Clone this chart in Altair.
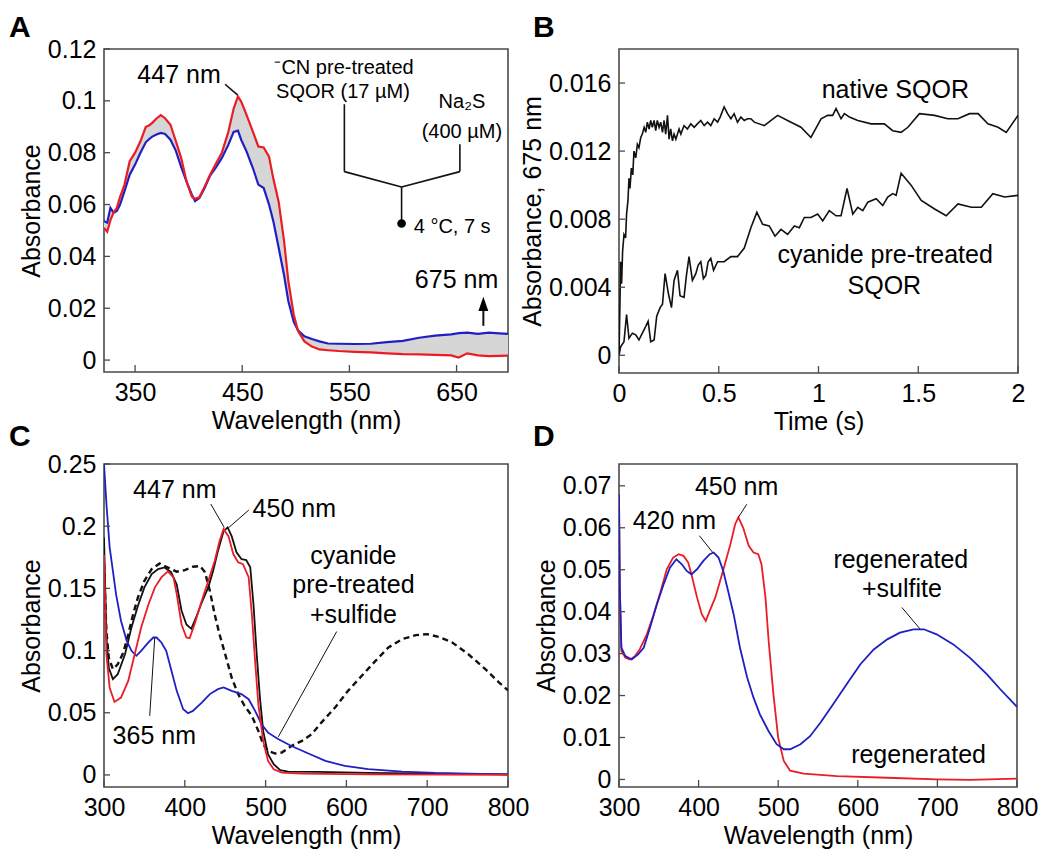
import altair as alt
import pandas as pd

FONT = "Liberation Sans"
RED = "#ea1d24"
BLUE = "#1f1fc4"
BLACK = "#111111"
GRAY = "#d6d6d6"
FRAME = "#4a4a4a"

# ---------------- Panel A ----------------
A_WL = [321, 324, 327, 330, 333, 336, 340, 345, 350, 355, 360, 363, 366, 370, 374, 378,
        383, 388, 393, 398, 403, 406, 410, 415, 420, 425, 431, 437, 442, 446, 449, 454,
        460, 465, 470, 475, 479, 484, 489, 493, 498, 502, 508, 515, 522, 530, 540, 555,
        570, 585, 600, 615, 630, 645, 652, 660, 670, 680, 690, 698]
A_RED = [0.051, 0.0495, 0.054, 0.057, 0.0587, 0.063, 0.0675, 0.0767, 0.080, 0.0844, 0.090,
         0.0905, 0.0915, 0.0932, 0.0945, 0.0933, 0.0908, 0.0845, 0.078, 0.069, 0.0630, 0.0622,
         0.0628, 0.067, 0.0715, 0.0754, 0.080, 0.088, 0.097, 0.1017, 0.0997, 0.0946, 0.088,
         0.0824, 0.0820, 0.0785, 0.070, 0.061, 0.046, 0.0305, 0.0177, 0.0113, 0.0072, 0.0052,
         0.0041, 0.0038, 0.0035, 0.0032, 0.003, 0.0026, 0.0023, 0.0022, 0.002, 0.0018, 0.001,
         0.0026, 0.0018, 0.0015, 0.0016, 0.0017]
A_BLUE = [0.0536, 0.053, 0.0587, 0.0568, 0.0575, 0.060, 0.065, 0.0715, 0.0754, 0.080, 0.084,
          0.0852, 0.0862, 0.0870, 0.0876, 0.0872, 0.0850, 0.0808, 0.0745, 0.0688, 0.0638,
          0.0613, 0.0625, 0.0665, 0.0712, 0.074, 0.078, 0.083, 0.088, 0.0885, 0.085, 0.0805,
          0.074, 0.0677, 0.0664, 0.060, 0.0536, 0.0433, 0.0328, 0.0228, 0.0148, 0.0115, 0.0092,
          0.0081, 0.0072, 0.0064, 0.0063, 0.0062, 0.0063, 0.0069, 0.0074, 0.0086, 0.0094,
          0.0099, 0.0104, 0.0106, 0.0101, 0.0106, 0.0103, 0.0101]
A_XTICKS = [350, 450, 550, 650]
A_YTICKS = [0, 0.02, 0.04, 0.06, 0.08, 0.1, 0.12]

# ---------------- Panel B ----------------
B_NATIVE_T = [0, 0.005, 0.008, 0.013, 0.018, 0.025, 0.033, 0.038, 0.045, 0.05, 0.055, 0.062,
              0.069, 0.075, 0.084, 0.092, 0.1, 0.109, 0.117, 0.126, 0.134, 0.142, 0.151, 0.159,
              0.167, 0.176, 0.184, 0.192, 0.201, 0.209, 0.218, 0.226, 0.234, 0.243, 0.251,
              0.259, 0.268, 0.276, 0.285, 0.301, 0.31, 0.326, 0.343, 0.36, 0.377, 0.393, 0.41,
              0.427, 0.444, 0.46, 0.477, 0.494, 0.507, 0.527, 0.544, 0.561, 0.577, 0.594, 0.611,
              0.628, 0.644, 0.661, 0.678, 0.728, 0.795, 0.845, 0.912, 0.962, 1.013, 1.046,
              1.071, 1.088, 1.113, 1.13, 1.155, 1.197, 1.264, 1.33, 1.372, 1.414, 1.448, 1.506,
              1.582, 1.648, 1.699, 1.757, 1.8, 1.849, 1.9, 1.941, 2.0]
B_NATIVE_V = [0.0, 0.0032, 0.0055, 0.0042, 0.0061, 0.0071, 0.0069, 0.0083, 0.0091, 0.0104,
              0.0098, 0.011, 0.0106, 0.012, 0.0116, 0.0124, 0.0122, 0.0128, 0.013, 0.0134,
              0.0131, 0.0137, 0.0133, 0.0138, 0.0134, 0.0138, 0.0132, 0.0138, 0.0134, 0.0137,
              0.0131, 0.0138, 0.013, 0.0141, 0.0127, 0.0133, 0.0126, 0.013, 0.0127, 0.0133,
              0.013, 0.0135, 0.0133, 0.0136, 0.0134, 0.0136, 0.0138, 0.0135, 0.0137, 0.0135,
              0.0139, 0.0137, 0.014, 0.0146, 0.0142, 0.0139, 0.0142, 0.0137, 0.014, 0.0138,
              0.0139, 0.0139, 0.0137, 0.0135, 0.0141, 0.0138, 0.0134, 0.0128, 0.0139, 0.0141,
              0.0141, 0.0145, 0.0139, 0.0142, 0.014, 0.0138, 0.0136, 0.0136, 0.0132, 0.0131,
              0.0134, 0.0142, 0.0141, 0.0139, 0.0139, 0.0142, 0.0142, 0.0136, 0.0134, 0.0131,
              0.0141]
B_CN_T = [0, 0.008, 0.025, 0.038, 0.05, 0.067, 0.084, 0.1, 0.117, 0.134, 0.146, 0.159, 0.176,
          0.189, 0.206, 0.218, 0.231, 0.248, 0.263, 0.276, 0.293, 0.306, 0.326, 0.338, 0.351,
          0.368, 0.385, 0.397, 0.41, 0.423, 0.435, 0.447, 0.46, 0.474, 0.494, 0.527, 0.561,
          0.594, 0.628, 0.661, 0.691, 0.72, 0.753, 0.782, 0.812, 0.845, 0.879, 0.904, 0.929,
          0.962, 0.996, 1.021, 1.054, 1.088, 1.113, 1.143, 1.172, 1.197, 1.222, 1.247, 1.289,
          1.322, 1.347, 1.372, 1.389, 1.414, 1.464, 1.515, 1.582, 1.64, 1.699, 1.766, 1.816,
          1.874, 1.933, 2.0]
B_CN_V = [0.0, 0.0005, 0.0008, 0.0024, 0.001, 0.0013, 0.0012, 0.0009, 0.0013, 0.0017, 0.002,
          0.0008, 0.0009, 0.0023, 0.0028, 0.003, 0.0048, 0.0036, 0.0028, 0.0044, 0.005, 0.0035,
          0.0034, 0.0047, 0.0058, 0.0044, 0.0048, 0.0053, 0.0055, 0.0045, 0.0047, 0.0055,
          0.0057, 0.005, 0.0055, 0.0055, 0.0058, 0.0058, 0.0063, 0.0075, 0.0084, 0.0077,
          0.0076, 0.007, 0.0074, 0.0071, 0.0076, 0.0075, 0.0081, 0.0081, 0.0083, 0.0079,
          0.0085, 0.0082, 0.0082, 0.0098, 0.0083, 0.0087, 0.0085, 0.009, 0.0092, 0.0088,
          0.0093, 0.0095, 0.0094, 0.0107, 0.010, 0.0091, 0.0086, 0.0082, 0.0089, 0.0087,
          0.0087, 0.0095, 0.0093, 0.0094]
B_XTICKS = [0, 0.5, 1, 1.5, 2]
B_YTICKS = [0, 0.004, 0.008, 0.012, 0.016]

# ---------------- Panel C ----------------
C_BLACK_WL = [300, 303, 306, 311, 317, 326, 334, 342, 350, 359, 367, 375, 383, 390, 396, 402,
              408, 414, 421, 429, 435, 441, 448, 453, 458, 464, 470, 476, 481, 485, 489, 493,
              497, 503, 510, 518, 528, 565, 627, 710, 800]
C_BLACK = [0.191, 0.1105, 0.086, 0.077, 0.081, 0.097, 0.1186, 0.136, 0.1508, 0.1615, 0.1655,
           0.1668, 0.163, 0.153, 0.132, 0.121, 0.1175, 0.1266, 0.1387, 0.1508, 0.164, 0.180,
           0.196, 0.199, 0.192, 0.179, 0.1736, 0.1727, 0.167, 0.137, 0.097, 0.062, 0.0354,
           0.0166, 0.0086, 0.0038, 0.0027, 0.0024, 0.0016, 0.001, 0.0005]
C_RED_WL = [300, 303, 307, 313, 321, 330, 338, 346, 355, 363, 371, 379, 386, 390, 396, 402,
            406, 412, 421, 429, 437, 443, 448, 454, 460, 466, 472, 479, 483, 487, 491, 497,
            503, 510, 520, 545, 627, 800]
C_RED = [0.177, 0.097, 0.070, 0.0587, 0.0622, 0.0756, 0.097, 0.1186, 0.137, 0.1508, 0.1588,
         0.1636, 0.1588, 0.1454, 0.121, 0.1105, 0.1100, 0.121, 0.140, 0.156, 0.172, 0.188,
         0.1977, 0.192, 0.1776, 0.171, 0.1695, 0.159, 0.129, 0.0917, 0.0569, 0.0274, 0.0113,
         0.0046, 0.0019, 0.0011, 0.0005, 0.0]
C_BLUE_WL = [300, 303, 307, 311, 315, 321, 328, 334, 340, 346, 355, 361, 365, 371, 377, 383,
             390, 398, 404, 410, 421, 431, 441, 448, 458, 470, 479, 487, 495, 503, 516, 532,
             553, 574, 598, 627, 669, 710, 751, 800]
C_BLUE = [0.25, 0.218, 0.183, 0.164, 0.145, 0.124, 0.108, 0.0998, 0.0958, 0.0998, 0.1065,
          0.1105, 0.1105, 0.1065, 0.0998, 0.085, 0.0676, 0.0528, 0.0496, 0.0515, 0.0582,
          0.065, 0.069, 0.0703, 0.0676, 0.065, 0.0609, 0.0515, 0.0408, 0.034, 0.0287, 0.0233,
          0.0172, 0.0113, 0.0072, 0.0046, 0.0027, 0.0016, 0.0011, 0.0005]
C_DASH_WL = [300, 303, 306, 311, 317, 324, 330, 336, 342, 350, 359, 369, 379, 390, 400, 410,
             419, 425, 431, 437, 443, 450, 458, 466, 474, 483, 491, 497, 503, 512, 520, 532,
             545, 557, 569, 586, 602, 619, 636, 652, 669, 686, 700, 714, 731, 751, 772, 789, 800]
C_DASH = [0.17, 0.115, 0.094, 0.085, 0.089, 0.0985, 0.113, 0.129, 0.1427, 0.156, 0.1655, 0.170,
          0.1668, 0.1634, 0.1647, 0.1674, 0.168, 0.163, 0.148, 0.129, 0.113, 0.097, 0.0783,
          0.065, 0.0555, 0.0475, 0.0354, 0.0247, 0.0193, 0.0172, 0.018, 0.0233, 0.0274,
          0.0327, 0.0421, 0.0542, 0.0676, 0.0797, 0.0917, 0.1025, 0.1092, 0.1124, 0.1132,
          0.111, 0.1065, 0.097, 0.085, 0.0743, 0.068]
C_XTICKS = [300, 400, 500, 600, 700, 800]
C_YTICKS = [0, 0.05, 0.1, 0.15, 0.2, 0.25]

# ---------------- Panel D ----------------
D_RED_WL = [300, 301, 303, 308, 314, 320, 326, 335, 343, 352, 360, 368, 375, 381, 387, 391,
            398, 404, 409, 414, 421, 427, 433, 440, 446, 450, 456, 463, 469, 475, 479, 484,
            488, 494, 500, 507, 515, 532, 574, 637, 699, 741, 800]
D_RED = [0.0672, 0.0457, 0.0306, 0.029, 0.0286, 0.0294, 0.031, 0.0346, 0.039, 0.0446, 0.0501,
         0.0529, 0.0537, 0.0533, 0.0517, 0.0489, 0.0434, 0.0394, 0.0378, 0.0402, 0.0434,
         0.0473, 0.0513, 0.0561, 0.0609, 0.0625, 0.060, 0.0557, 0.0541, 0.0537, 0.0513,
         0.0434, 0.033, 0.0203, 0.0099, 0.0044, 0.0021, 0.0014, 0.0008, 0.0004, 0.0, -0.0001,
         0.0002]
D_BLUE_WL = [300, 301, 303, 308, 316, 324, 331, 339, 347, 356, 364, 372, 379, 385, 391, 398,
             406, 414, 419, 425, 431, 437, 444, 452, 461, 469, 477, 488, 498, 507, 515, 528,
             540, 553, 569, 586, 603, 620, 637, 653, 670, 683, 699, 720, 741, 762, 779, 800]
D_BLUE = [0.068, 0.0457, 0.0314, 0.0294, 0.0286, 0.0298, 0.0314, 0.0362, 0.0414, 0.0465,
          0.0505, 0.0525, 0.0513, 0.0497, 0.0489, 0.0501, 0.0521, 0.0537, 0.0541, 0.0529,
          0.0497, 0.045, 0.0394, 0.0314, 0.0243, 0.0195, 0.0155, 0.0115, 0.0084, 0.0072,
          0.0072, 0.0084, 0.0103, 0.0135, 0.0179, 0.0227, 0.0274, 0.031, 0.0334, 0.035,
          0.0358, 0.0358, 0.0346, 0.0322, 0.029, 0.0251, 0.0215, 0.0173]
D_XTICKS = [300, 400, 500, 600, 700, 800]
D_YTICKS = [0, 0.01, 0.02, 0.03, 0.04, 0.05, 0.06, 0.07]

AX = dict(tickSize=0, domain=False, grid=False, labelExpr="'' + datum.value",
          labelFont=FONT, labelFontSize=25, labelColor="black", labelFlush=False,
          labelOverlap=False, labelBound=False, titleFont=FONT, titleFontSize=25,
          titleFontWeight="normal", titleColor="black")


class Panel:
    def __init__(self, xdom, ydom, xticks, yticks, xtitle, ytitle, w, h):
        self.xs = alt.Scale(domain=xdom, nice=False, zero=False)
        self.ys = alt.Scale(domain=ydom, nice=False, zero=False)
        self.xa = alt.Axis(**AX, values=xticks, title=xtitle, labelPadding=8, titlePadding=3.4)
        self.ya = alt.Axis(**AX, values=yticks, title=ytitle, labelPadding=8, titlePadding=3)
        self.xticks, self.yticks, self.w, self.h = xticks, yticks, w, h
        self.layers = []

    def X(self, f="x"):
        return alt.X(f"{f}:Q", scale=self.xs, axis=self.xa)

    def Y(self, f="y"):
        return alt.Y(f"{f}:Q", scale=self.ys, axis=self.ya)

    def line(self, xs, ys, color, width=1.8, dash=None):
        df = pd.DataFrame({"x": xs, "y": ys})
        kw = dict(color=color, strokeWidth=width, clip=True)
        if dash:
            kw["strokeDash"] = dash
        self.layers.append(alt.Chart(df).mark_line(**kw).encode(x=self.X(), y=self.Y()))

    def band(self, xs, y1, y2, color):
        df = pd.DataFrame({"x": xs, "y": y1, "y2": y2})
        self.layers.append(alt.Chart(df).mark_area(color=color, clip=True).encode(
            x=self.X(), y=self.Y(), y2="y2:Q"))

    def segs(self, segs, color=BLACK, width=1.0):
        df = pd.DataFrame(segs, columns=["x", "y", "x2", "y2"])
        self.layers.append(alt.Chart(df).mark_rule(color=color, strokeWidth=width).encode(
            x=self.X(), y=self.Y(), x2="x2:Q", y2="y2:Q"))

    def texts(self, rows, size=25, align="center"):
        df = pd.DataFrame(rows, columns=["t", "x", "y"])
        self.layers.append(alt.Chart(df).mark_text(
            font=FONT, fontSize=size, align=align, baseline="alphabetic", color="black"
        ).encode(x=self.X(), y=self.Y(), text="t:N"))

    def letter(self, s, dx, dy):
        df = pd.DataFrame({"t": [s]})
        self.layers.append(alt.Chart(df).mark_text(
            font=FONT, fontSize=30, fontWeight="bold", align="left", baseline="alphabetic",
            color="black").encode(text="t:N", x=alt.value(dx), y=alt.value(dy)))

    def build(self):
        tx = pd.DataFrame({"x": self.xticks})
        ty = pd.DataFrame({"y": self.yticks})
        ticks_x = alt.Chart(tx).mark_rule(color=FRAME, strokeWidth=1.3).encode(
            x=self.X(), y=alt.value(self.h), y2=alt.value(self.h - 7))
        ticks_y = alt.Chart(ty).mark_rule(color=FRAME, strokeWidth=1.3).encode(
            y=self.Y(), x=alt.value(0), x2=alt.value(6))
        return alt.layer(*self.layers, ticks_x, ticks_y).properties(width=self.w, height=self.h)


# ---- A
pa = Panel([321, 698], [-0.0046, 0.12], A_XTICKS, A_YTICKS, "Wavelength (nm)", "Absorbance", 404, 323)
pa.band(A_WL, A_RED, A_BLUE, GRAY)
pa.line(A_WL, A_BLUE, BLUE, 2.2)
pa.line(A_WL, A_RED, RED, 2.2)
pa.segs([[434, 0.1064, 445.8, 0.1022],
         [545.3, 0.0987, 545.3, 0.0727],
         [545.3, 0.0727, 598.7, 0.0668],
         [598.7, 0.0668, 653.1, 0.0727],
         [653.1, 0.0727, 653.1, 0.0833],
         [598.7, 0.0668, 598.7, 0.0527]], width=1.6)
pa.segs([[675, 0.0132, 675, 0.0215]], width=2.0)
pa.layers.append(alt.Chart(pd.DataFrame({"x": [598.7], "y": [0.0527]})).mark_circle(
    size=75, color="black", opacity=1).encode(x=pa.X(), y=pa.Y()))
pa.layers.append(alt.Chart(pd.DataFrame({"x": [675], "y": [0.0217]})).mark_point(
    shape="M0,-1L0.7,1L-0.7,1Z", size=200, filled=True, color="black", opacity=1).encode(
    x=pa.X(), y=pa.Y()))
pa.texts([["447 nm", 391, 0.1068]], 25)
pa.texts([["675 nm", 650, 0.0279]], 25)
pa.texts([["\u207bCN pre-treated", 545, 0.1104],
          ["SQOR (17 \u00b5M)", 544, 0.1012],
          ["Na\u2082S", 655, 0.0973],
          ["(400 \u00b5M)", 655, 0.0857]], 20)
pa.texts([["4 \u00b0C, 7 s", 610, 0.0492]], 20, "left")
pa.letter("A", -95, -12)

# ---- B
pb = Panel([0, 2], [-0.00104, 0.018], B_XTICKS, B_YTICKS, "Time (s)", "Absorbance, 675 nm", 399, 324)
pb.line(B_NATIVE_T, B_NATIVE_V, BLACK, 1.6)
pb.line(B_CN_T, B_CN_V, BLACK, 1.6)
pb.texts([["native SQOR", 1.385, 0.0151],
          ["cyanide pre-treated", 1.334, 0.00543],
          ["SQOR", 1.33, 0.00361]], 25)
pb.letter("B", -86, -12)

# ---- C
pc = Panel([300, 800], [-0.0097, 0.25], C_XTICKS, C_YTICKS, "Wavelength (nm)", "Absorbance", 404, 323)
pc.line(C_DASH_WL, C_DASH, BLACK, 2.4, [6, 4])
pc.line(C_BLACK_WL, C_BLACK, BLACK, 1.8)
pc.line(C_BLUE_WL, C_BLUE, BLUE, 1.8)
pc.line(C_RED_WL, C_RED, RED, 1.8)
pc.segs([[432.2, 0.2178, 448.8, 0.199],
         [479.3, 0.213, 453.7, 0.1985],
         [588, 0.1153, 515.7, 0.0306],
         [356.6, 0.0475, 362.8, 0.1105]], width=1.0)
pc.texts([["447 nm", 387.6, 0.2226],
          ["450 nm", 535.5, 0.2076],
          ["cyanide", 608.7, 0.1695],
          ["pre-treated", 608.7, 0.1459],
          ["+sulfide", 608.7, 0.1218],
          ["365 nm", 362.2, 0.0247]], 25)
pc.letter("C", -95, -18)

# ---- D
pd_ = Panel([300, 800], [-0.0018, 0.0752], D_XTICKS, D_YTICKS, "Wavelength (nm)", "Absorbance", 398, 323)
pd_.line(D_RED_WL, D_RED, RED, 1.8)
pd_.line(D_BLUE_WL, D_BLUE, BLUE, 1.8)
pd_.segs([[460.5, 0.0656, 450, 0.0625],
          [401, 0.0581, 417.8, 0.0541],
          [655.4, 0.041, 678.5, 0.0358]], width=1.0)
pd_.texts([["450 nm", 447.7, 0.0679],
           ["420 nm", 369.6, 0.0597],
           ["regenerated", 654, 0.0505],
           ["+sulfite", 655.4, 0.0435],
           ["regenerated", 676.3, 0.004]], 25)
pd_.letter("D", -86, -18)

chart = alt.concat(
    pa.build(), pb.build(), pc.build(), pd_.build(),
    columns=2, spacing={"row": 91, "column": 111}, bounds="flush"
).properties(padding={"top": 4, "left": 0, "right": 0, "bottom": 0}).configure_view(
    stroke=FRAME, strokeWidth=1.6)

chart.save("out.html", embed_options={"renderer": "svg", "actions": False})
